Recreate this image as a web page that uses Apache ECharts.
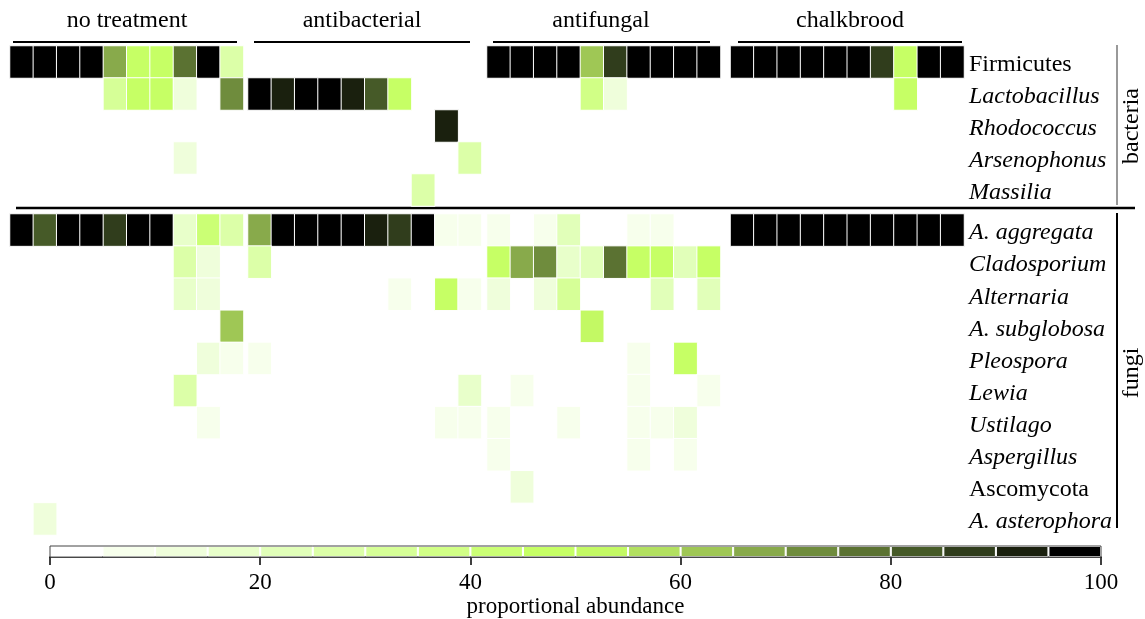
<!DOCTYPE html>
<html>
<head>
<meta charset="utf-8">
<script src="https://cdn.jsdelivr.net/npm/echarts@6/dist/echarts.min.js"></script>
<style>html,body{margin:0;padding:0;background:#fff;}#chart{width:1145px;height:619px;}</style>
</head>
<body>
<div id="chart"></div>
<script>
// ---------- data ----------
const groups = ['no treatment', 'antibacterial', 'antifungal', 'chalkbrood'];
const bacteriaRows = ['Firmicutes', 'Lactobacillus', 'Rhodococcus', 'Arsenophonus', 'Massilia'];
const fungiRows = ['A. aggregata', 'Cladosporium', 'Alternaria', 'A. subglobosa', 'Pleospora',
  'Lewia', 'Ustilago', 'Aspergillus', 'Ascomycota', 'A. asterophora'];
const uprightLabels = ['Firmicutes', 'Ascomycota'];
const columns = ['1', '2', '3', '4', '5', '6', '7', '8', '9', '10'];
const legendTicks = [0, 20, 40, 60, 80, 100];

// rows: 5 bacteria then 10 fungi; 10 replicate columns each
const noTreatment = [
  [97, 97, 97, 97, 67, 47, 47, 77, 97, 27],
  [0, 0, 0, 0, 30, 47, 47, 12, 0, 72],
  [0, 0, 0, 0, 0, 0, 0, 0, 0, 0],
  [0, 0, 0, 0, 0, 0, 0, 12, 0, 0],
  [0, 0, 0, 0, 0, 0, 0, 0, 0, 0],
  [97, 82, 97, 97, 87, 97, 97, 15, 42, 27],
  [0, 0, 0, 0, 0, 0, 0, 25, 12, 0],
  [0, 0, 0, 0, 0, 0, 0, 17, 12, 0],
  [0, 0, 0, 0, 0, 0, 0, 0, 0, 62],
  [0, 0, 0, 0, 0, 0, 0, 0, 12, 7],
  [0, 0, 0, 0, 0, 0, 0, 25, 0, 0],
  [0, 0, 0, 0, 0, 0, 0, 0, 7, 0],
  [0, 0, 0, 0, 0, 0, 0, 0, 0, 0],
  [0, 0, 0, 0, 0, 0, 0, 0, 0, 0],
  [0, 10, 0, 0, 0, 0, 0, 0, 0, 0]
];
const antibacterial = [
  [0, 0, 0, 0, 0, 0, 0, 0, 0, 0],
  [97, 92, 97, 97, 92, 82, 47, 0, 0, 0],
  [0, 0, 0, 0, 0, 0, 0, 0, 92, 0],
  [0, 0, 0, 0, 0, 0, 0, 0, 0, 27],
  [0, 0, 0, 0, 0, 0, 0, 25, 0, 0],
  [67, 97, 97, 97, 97, 92, 87, 97, 7, 7],
  [25, 0, 0, 0, 0, 0, 0, 0, 0, 0],
  [0, 0, 0, 0, 0, 0, 7, 0, 47, 8],
  [0, 0, 0, 0, 0, 0, 0, 0, 0, 0],
  [7, 0, 0, 0, 0, 0, 0, 0, 0, 0],
  [0, 0, 0, 0, 0, 0, 0, 0, 0, 17],
  [0, 0, 0, 0, 0, 0, 0, 0, 7, 7],
  [0, 0, 0, 0, 0, 0, 0, 0, 0, 0],
  [0, 0, 0, 0, 0, 0, 0, 0, 0, 0],
  [0, 0, 0, 0, 0, 0, 0, 0, 0, 0]
];
const antifungal = [
  [97, 97, 97, 97, 62, 87, 97, 97, 97, 97],
  [0, 0, 0, 0, 37, 12, 0, 0, 0, 0],
  [0, 0, 0, 0, 0, 0, 0, 0, 0, 0],
  [0, 0, 0, 0, 0, 0, 0, 0, 0, 0],
  [0, 0, 0, 0, 0, 0, 0, 0, 0, 0],
  [8, 0, 8, 22, 0, 0, 8, 7, 0, 0],
  [47, 67, 72, 15, 20, 77, 47, 47, 22, 47],
  [12, 0, 14, 30, 0, 0, 0, 20, 0, 20],
  [0, 0, 0, 0, 50, 0, 0, 0, 0, 0],
  [0, 0, 0, 0, 0, 0, 7, 0, 47, 0],
  [0, 7, 0, 0, 0, 0, 7, 0, 0, 7],
  [7, 0, 0, 7, 0, 0, 7, 7, 10, 0],
  [7, 0, 0, 0, 0, 0, 7, 0, 7, 0],
  [0, 10, 0, 0, 0, 0, 0, 0, 0, 0],
  [0, 0, 0, 0, 0, 0, 0, 0, 0, 0]
];
const chalkbrood = [
  [97, 97, 97, 97, 97, 97, 87, 47, 97, 97],
  [0, 0, 0, 0, 0, 0, 0, 47, 0, 0],
  [0, 0, 0, 0, 0, 0, 0, 0, 0, 0],
  [0, 0, 0, 0, 0, 0, 0, 0, 0, 0],
  [0, 0, 0, 0, 0, 0, 0, 0, 0, 0],
  [97, 97, 97, 97, 97, 97, 97, 97, 97, 97],
  [0, 0, 0, 0, 0, 0, 0, 0, 0, 0],
  [0, 0, 0, 0, 0, 0, 0, 0, 0, 0],
  [0, 0, 0, 0, 0, 0, 0, 0, 0, 0],
  [0, 0, 0, 0, 0, 0, 0, 0, 0, 0],
  [0, 0, 0, 0, 0, 0, 0, 0, 0, 0],
  [0, 0, 0, 0, 0, 0, 0, 0, 0, 0],
  [0, 0, 0, 0, 0, 0, 0, 0, 0, 0],
  [0, 0, 0, 0, 0, 0, 0, 0, 0, 0],
  [0, 0, 0, 0, 0, 0, 0, 0, 0, 0]
];
const groupData = [noTreatment, antibacterial, antifungal, chalkbrood];

// 20 colour steps of 5 %
const palette = ['#ffffff', '#f7ffec', '#effedb', '#e8ffca', '#e1ffb9', '#dcffa8', '#d6ff97',
  '#d1ff86', '#cbff75', '#c6ff65', '#c3f964', '#b2e060', '#9fc755', '#88aa4b', '#6f8c3d',
  '#5b7232', '#465a28', '#303d1c', '#1a200e', '#000000'];

// ---------- layout ----------
const FONT = "'Liberation Serif', 'DejaVu Serif', serif";
const groupLeft = [10, 248, 487, 730.5];
const groupWidth = 233.5;
const blocks = [
  { rows: bacteriaRows, offset: 0, top: 46, height: 160 },
  { rows: fungiRows, offset: 5, top: 214, height: 321 }
];

const grids = [], xAxes = [], yAxes = [], series = [];
blocks.forEach((blk, b) => {
  groups.forEach((gName, g) => {
    const idx = grids.length;
    grids.push({ left: groupLeft[g], top: blk.top, width: groupWidth, height: blk.height });
    xAxes.push({ type: 'category', gridIndex: idx, data: columns, show: false });
    const showLabels = g === groups.length - 1;
    yAxes.push({
      type: 'category', gridIndex: idx, data: blk.rows, inverse: true, position: 'right',
      axisLine: { show: false }, axisTick: { show: false }, splitLine: { show: false },
      axisLabel: {
        show: showLabels, interval: 0, margin: 5, align: 'left',
        formatter: v => uprightLabels.includes(v) ? '{n|' + v + '}' : '{i|' + v + '}',
        rich: {
          n: { fontFamily: FONT, fontSize: 24, color: '#000', padding: [6, 0, 0, 0] },
          i: { fontFamily: FONT, fontSize: 24, color: '#000', fontStyle: 'italic', padding: [6, 0, 0, 0] }
        }
      }
    });
    const data = [];
    const mat = groupData[g];
    blk.rows.forEach((r, ri) => {
      mat[blk.offset + ri].forEach((v, ci) => {
        if (v > 0) data.push([ci, ri, v]);
      });
    });
    series.push({
      type: 'heatmap', name: gName, xAxisIndex: idx, yAxisIndex: idx, data,
      itemStyle: { borderColor: '#ffffff', borderWidth: 1 },
      emphasis: { disabled: true }, silent: true
    });
  });
});

// colour-bar legend grid
const lg = grids.length;
grids.push({ left: 50, top: 546, width: 1051, height: 16, show: true, borderColor: '#444', borderWidth: 1, z: 10 });
xAxes.push({
  type: 'value', gridIndex: lg, min: 0, max: 100, interval: 20, position: 'bottom',
  axisLine: { show: true, lineStyle: { color: '#000', width: 1.5 } },
  axisTick: { show: true, length: 8, lineStyle: { color: '#000', width: 1.5 } },
  splitLine: { show: false },
  axisLabel: { fontFamily: FONT, fontSize: 23, color: '#000', margin: 14,
    formatter: v => legendTicks.includes(v) ? String(v) : '' },
  name: 'proportional abundance', nameLocation: 'middle', nameGap: 34,
  nameTextStyle: { fontFamily: FONT, fontSize: 23, color: '#000' }
});
yAxes.push({ type: 'category', gridIndex: lg, data: ['scale'], show: false });
palette.forEach((c, i) => {
  series.push({
    type: 'bar', stack: 'scale', xAxisIndex: lg, yAxisIndex: lg, data: [5],
    barWidth: '100%', silent: true,
    itemStyle: { color: c, borderColor: '#ffffff', borderWidth: 1 }
  });
});

const pieces = palette.map((c, i) => i === palette.length - 1
  ? { gte: i * 5, lte: 100, color: c }
  : { gte: i * 5, lt: (i + 1) * 5, color: c });

// ---------- decorations ----------
const headerCenters = [127, 362, 601, 850];
const headerLines = [[13, 237], [254, 470], [493, 710], [738, 962]];
const graphic = [];
groups.forEach((g, i) => {
  graphic.push({ type: 'text', x: headerCenters[i], y: 21, style: { text: g, font: '24px ' + FONT, fill: '#000', textAlign: 'center', textVerticalAlign: 'middle' } });
  graphic.push({ type: 'line', shape: { x1: headerLines[i][0], y1: 42, x2: headerLines[i][1], y2: 42 }, style: { stroke: '#000', lineWidth: 2 } });
});
graphic.push({ type: 'line', shape: { x1: 16, y1: 208, x2: 1135, y2: 208 }, style: { stroke: '#000', lineWidth: 2.5 } });
graphic.push({ type: 'line', shape: { x1: 1117, y1: 45, x2: 1117, y2: 205 }, style: { stroke: '#999', lineWidth: 2 } });
graphic.push({ type: 'line', shape: { x1: 1117, y1: 213, x2: 1117, y2: 528 }, style: { stroke: '#000', lineWidth: 2 } });
graphic.push({ type: 'text', x: 1132, y: 126, rotation: Math.PI / 2, style: { text: 'bacteria', font: '24px ' + FONT, fill: '#000', textAlign: 'center', textVerticalAlign: 'middle' } });
graphic.push({ type: 'text', x: 1132, y: 373, rotation: Math.PI / 2, style: { text: 'fungi', font: '24px ' + FONT, fill: '#000', textAlign: 'center', textVerticalAlign: 'middle' } });

const chart = echarts.init(document.getElementById('chart'), null, { renderer: 'canvas' });
chart.setOption({
  backgroundColor: '#ffffff',
  animation: false,
  grid: grids,
  xAxis: xAxes,
  yAxis: yAxes,
  visualMap: {
    type: 'piecewise', show: false, dimension: 2,
    seriesIndex: [0, 1, 2, 3, 4, 5, 6, 7], pieces
  },
  series,
  graphic
});
</script>
</body>
</html>
